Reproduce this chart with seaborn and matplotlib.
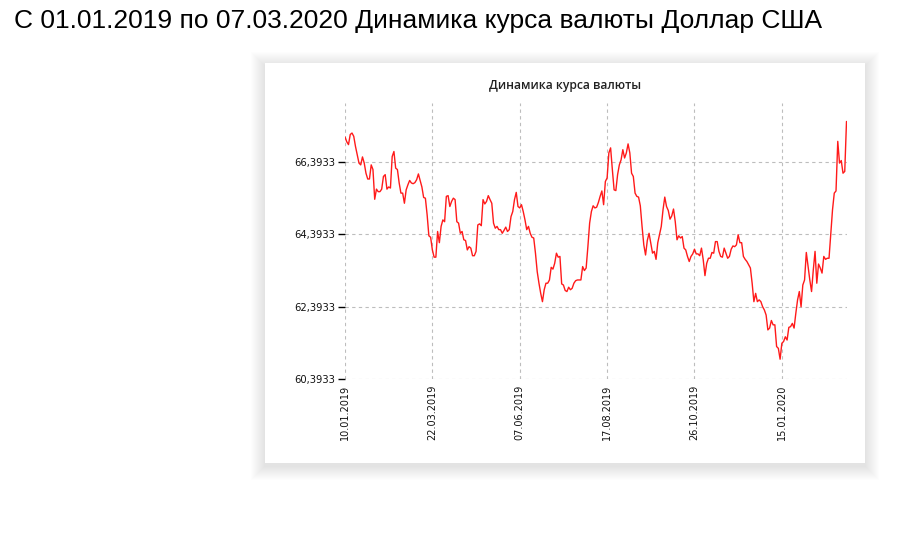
import matplotlib.pyplot as plt
import seaborn as sns
from matplotlib.patches import Rectangle

# -------------------------
# Data: USD rate, one value per trading day (10.01.2019 - 07.03.2020)
# -------------------------

rates = [
    67.08, 66.95, 66.87, 67.15, 67.19, 67.10, 66.82, 66.59, 66.36, 66.31,
    66.53, 66.36, 66.08, 65.92, 65.92, 66.31, 66.18, 65.36, 65.64, 65.57,
    65.57, 65.64, 65.99, 66.04, 65.64, 65.70, 65.67, 66.54, 66.68, 66.22,
    66.18, 65.81, 65.53, 65.53, 65.25, 65.62, 65.76, 65.88, 65.81, 65.79,
    65.82, 65.90, 66.06, 65.88, 65.70, 65.41, 65.39, 64.93, 64.35, 64.31,
    63.96, 63.76, 63.76, 64.47, 64.16, 64.61, 64.79, 64.74, 65.44, 65.46,
    65.16, 65.30, 65.39, 65.35, 64.74, 64.70, 64.42, 64.47, 64.24, 64.22,
    63.96, 64.05, 64.01, 63.80, 63.80, 63.92, 64.65, 64.68, 64.63, 65.35,
    65.23, 65.30, 65.46, 65.35, 65.25, 64.70, 64.56, 64.61, 64.52, 64.52,
    64.42, 64.50, 64.59, 64.47, 64.52, 64.88, 65.02, 65.35, 65.55, 65.16,
    65.12, 65.21, 65.02, 64.79, 64.52, 64.61, 64.42, 64.31, 64.29, 63.87,
    63.36, 63.04, 62.76, 62.53, 62.86, 63.04, 63.04, 63.13, 63.48, 63.43,
    63.59, 63.87, 63.76, 63.78, 63.02, 62.99, 62.84, 62.81, 62.93, 62.86,
    62.90, 63.04, 63.11, 63.13, 63.13, 63.13, 63.50, 63.39, 63.46, 64.05,
    64.70, 65.02, 65.18, 65.12, 65.14, 65.27, 65.44, 65.59, 65.21, 65.85,
    65.95, 66.64, 66.78, 66.18, 65.62, 65.60, 66.04, 66.31, 66.45, 66.73,
    66.50, 66.64, 66.89, 66.64, 66.08, 65.99, 65.53, 65.44, 65.42, 65.18,
    64.61, 64.10, 63.82, 64.22, 64.42, 64.15, 63.87, 63.92, 63.70, 64.16,
    64.38, 64.61, 65.07, 65.42, 65.16, 65.05, 64.81, 64.90, 65.09, 64.74,
    64.24, 64.35, 64.29, 64.33, 64.01, 63.96, 63.78, 63.64, 63.78, 63.85,
    63.98, 63.85, 63.85, 63.80, 64.01, 63.69, 63.25, 63.59, 63.73, 63.73,
    63.89, 63.87, 64.19, 64.19, 63.92, 63.78, 63.76, 64.01, 63.87, 63.73,
    63.78, 63.98, 64.07, 64.05, 64.10, 64.38, 64.16, 64.16, 63.78, 63.70,
    63.64, 63.55, 63.46, 63.04, 62.53, 62.76, 62.53, 62.58, 62.53, 62.39,
    62.30, 62.16, 61.75, 61.80, 62.01, 61.89, 61.89, 61.29, 61.24, 60.94,
    61.38, 61.43, 61.56, 61.47, 61.82, 61.84, 61.93, 61.80, 62.21, 62.58,
    62.81, 62.39, 62.99, 63.13, 63.89, 63.50, 63.13, 62.81, 63.41, 63.92,
    63.04, 63.57, 63.46, 63.32, 63.78, 63.70, 63.73, 63.73, 64.38, 65.07,
    65.53, 65.59, 66.96, 66.36, 66.43, 66.08, 66.13, 67.51,
]
days = list(range(len(rates)))

tick_labels = ["10.01.2019", "22.03.2019", "07.06.2019",
               "17.08.2019", "26.10.2019", "15.01.2020"]
tick_step = 50
y_ticks = [60.3933, 62.3933, 64.3933, 66.3933]

page_title = "С 01.01.2019 по 07.03.2020 Динамика курса валюты Доллар США"
chart_title = "Динамика курса валюты"

# -------------------------
# Figure
# -------------------------

sns.set_style("white")
plt.rcParams["font.family"] = ["DejaVu Sans"]

W, H = 899, 544
fig = plt.figure(figsize=(W / 100, H / 100), dpi=100)
fig.patch.set_facecolor("white")

# card with soft shadow
cx, cy, cw, ch = 265, 63, 600, 400
for k in range(14, 0, -1):
    fig.patches.append(Rectangle(
        ((cx - k) / W, 1 - (cy + ch + k + 3) / H),
        (cw + 2 * k) / W, (ch + 2 * k) / H,
        transform=fig.transFigure, facecolor="black",
        alpha=0.006, edgecolor="none", zorder=0))
fig.patches.append(Rectangle(
    (cx / W, 1 - (cy + ch) / H), cw / W, ch / H,
    transform=fig.transFigure, facecolor="white", edgecolor="none", zorder=1))

fig.text(13.5 / W, 1 - 28 / H, page_title, fontsize=19,
         family="Liberation Sans", va="baseline", ha="left", color="black")
fig.text(565 / W, 1 - 89 / H, chart_title, fontsize=8.7,
         family="Open Sans", weight="semibold", va="baseline", ha="center",
         color="#222222")

ax = fig.add_axes([345 / W, 1 - 379 / H, 501.5 / W, 276 / H])
ax.set_facecolor("none")
ax.set_zorder(2)

sns.lineplot(x=days, y=rates, ax=ax, color="#ff1a1a", linewidth=1)

ax.set_xlim(0, len(rates) - 1)
ax.set_ylim(60.3933, 68.02)

ax.set_xticks(range(0, tick_step * len(tick_labels), tick_step))
ax.set_xticklabels(tick_labels, rotation=90, fontsize=7, color="#111111")
ax.set_yticks(y_ticks)
ax.set_yticklabels([f"{v:.4f}".replace(".", ",") for v in y_ticks],
                   fontsize=7.2, color="#111111")

ax.grid(True, linestyle=(0, (3, 3)), color="#bdbdbd", linewidth=0.8)
ax.set_axisbelow(True)
for s in ax.spines.values():
    s.set_visible(False)
ax.tick_params(axis="y", length=5, width=1, color="black", pad=2, left=True)
ax.tick_params(axis="x", length=0, pad=4, bottom=True)
ax.set_xlabel("")
ax.set_ylabel("")

plt.savefig("out.png", dpi=100)
